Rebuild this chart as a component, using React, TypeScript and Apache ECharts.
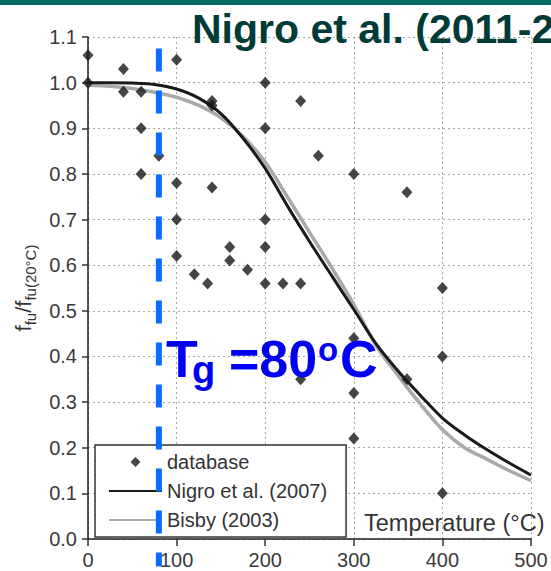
import React, { useEffect, useRef } from "react";
import * as echarts from "echarts";

const FONT = "'Liberation Sans', Arial, Helvetica, sans-serif";

// Model curves: strength ratio vs temperature
const curveTemps = [0, 25, 50, 75, 100, 125, 150, 175, 200, 225, 250, 275, 300, 325, 350, 375, 400, 425, 450, 475, 500];
const nigro2007 = [1.0, 1.0, 0.999, 0.996, 0.986, 0.966, 0.932, 0.878, 0.812, 0.73, 0.652, 0.577, 0.503, 0.428, 0.368, 0.315, 0.265, 0.228, 0.196, 0.167, 0.14];
const bisby2003 = [0.994, 0.992, 0.987, 0.979, 0.968, 0.95, 0.923, 0.882, 0.826, 0.75, 0.672, 0.595, 0.514, 0.424, 0.358, 0.296, 0.24, 0.2, 0.175, 0.15, 0.128];

// Test database
const dbTemps = [0, 0, 40, 40, 60, 60, 60, 80, 100, 100, 100, 100, 120, 135, 140, 140, 140, 160, 160, 180, 200, 200, 200, 200, 200, 220, 240, 240, 240, 260, 300, 300, 300, 300, 360, 360, 400, 400, 400];
const dbRatios = [1.06, 1.0, 1.03, 0.98, 0.98, 0.9, 0.8, 0.84, 1.05, 0.78, 0.7, 0.62, 0.58, 0.56, 0.96, 0.95, 0.77, 0.64, 0.61, 0.59, 1.0, 0.9, 0.7, 0.64, 0.56, 0.56, 0.96, 0.56, 0.35, 0.84, 0.8, 0.44, 0.32, 0.22, 0.76, 0.35, 0.55, 0.4, 0.1];

const legendNames = ["database", "Nigro et al. (2007)", "Bisby (2003)"];
const glassTransition = 80;

export default function App() {
  const ref = useRef<HTMLDivElement>(null);

  useEffect(() => {
    const el = ref.current;
    if (!el) return;
    const chart = echarts.init(el, null, { renderer: "svg" });

    const axisLineStyle = { color: "#1e1e1e", width: 1.5 };
    const gridLineStyle = { color: "#a8a8a8", type: [2, 3], width: 1 };
    const labelStyle = { color: "#3a3a3a", fontSize: 20, fontFamily: FONT };

    chart.setOption({
      animation: false,
      backgroundColor: "#ffffff",
      grid: { left: 88, right: 20, top: 37, bottom: 32 },
      xAxis: {
        type: "value",
        min: 0,
        max: 500,
        interval: 100,
        axisLine: { show: true, onZero: false, lineStyle: axisLineStyle },
        axisTick: { show: true, length: 7, lineStyle: { color: "#333", width: 1.5 } },
        axisLabel: { ...labelStyle, margin: 11 },
        splitLine: { show: true, lineStyle: gridLineStyle },
      },
      yAxis: {
        type: "value",
        min: 0,
        max: 1.1,
        interval: 0.1,
        axisLine: { show: true, onZero: false, lineStyle: axisLineStyle },
        axisTick: { show: true, length: 6, lineStyle: { color: "#333", width: 1.5 } },
        axisLabel: { ...labelStyle, margin: 11, formatter: (v: number) => v.toFixed(1) },
        splitLine: { show: true, lineStyle: gridLineStyle },
        name: "{m|f}{s|fu}{m|/f}{s|fu(20°C)}",
        nameLocation: "middle",
        nameRotate: 90,
        nameGap: 54,
        nameTextStyle: {
          color: "#333",
          fontFamily: FONT,
          rich: {
            m: { fontSize: 22, fontFamily: FONT, color: "#333", lineHeight: 22, verticalAlign: "top" },
            s: { fontSize: 15, fontFamily: FONT, color: "#333", lineHeight: 15, verticalAlign: "top", padding: [11, 0, 0, 0] },
          },
        },
      },
      legend: {
        data: [
          { name: legendNames[0], icon: "path://M5,0L10,5L5,10L0,5Z" },
          { name: legendNames[1], itemStyle: { opacity: 0 } },
          { name: legendNames[2], itemStyle: { opacity: 0 } },
        ],
        orient: "vertical",
        left: 95,
        top: 445,
        itemWidth: 53,
        itemHeight: 10,
        itemGap: 9,
        symbolKeepAspect: true,
        padding: [7, 19, 7, 13],
        backgroundColor: "#ffffff",
        borderColor: "#333",
        borderWidth: 1.5,
        borderRadius: 0,
        selectedMode: false,
        textStyle: { fontSize: 20, lineHeight: 20, color: "#333", fontFamily: FONT },
      },
      series: [
        {
          name: "Bisby (2003)",
          type: "line",
          data: curveTemps.map((t, i) => [t, bisby2003[i]]),
          smooth: 0.3,
          symbol: "none",
          lineStyle: { color: "#a9a9a9", width: 3.5 },
          itemStyle: { color: "#a9a9a9" },
          z: 2,
        },
        {
          name: "Nigro et al. (2007)",
          type: "line",
          data: curveTemps.map((t, i) => [t, nigro2007[i]]),
          smooth: 0.3,
          symbol: "none",
          lineStyle: { color: "#1a1a1a", width: 3 },
          itemStyle: { color: "#1a1a1a" },
          z: 3,
        },
        {
          name: "database",
          type: "scatter",
          symbol: "diamond",
          symbolSize: [11, 12],
          data: dbTemps.map((t, i) => [t, dbRatios[i]]),
          itemStyle: { color: "#161616" },
          z: 4,
        },
      ],
    });

    // Glass-transition marker and annotations
    const tgX = chart.convertToPixel({ xAxisIndex: 0 }, glassTransition) as number;
    const tgTop = chart.convertToPixel({ yAxisIndex: 0 }, 1.075) as number;
    const tgBottom = chart.convertToPixel({ yAxisIndex: 0 }, -0.06) as number;
    const blue = "#0000f2";

    chart.setOption({
      graphic: [
        { type: "rect", x: 0, y: 0, shape: { width: 551, height: 5 }, style: { fill: "#036b64" }, z: 20 },
        {
          type: "text",
          x: 192,
          y: 28.6,
          style: { text: "Nigro et al. (2011-2012)", fill: "#013b36", font: `bold 41px ${FONT}`, verticalAlign: "middle" },
          z: 20,
        },
        {
          type: "text",
          x: 364,
          y: 523,
          style: { text: "Temperature (°C)", fill: "#333", font: `23.5px ${FONT}`, verticalAlign: "middle" },
          z: 20,
        },
        {
          type: "line",
          shape: { x1: tgX, y1: tgTop, x2: tgX, y2: tgBottom },
          style: { stroke: "#0a6cff", lineWidth: 6, lineDash: [23, 19] },
          z: 30,
        },
        { type: "text", x: 166, y: 358.5, style: { text: "T", fill: blue, font: `bold 52px ${FONT}`, verticalAlign: "middle" }, z: 30 },
        { type: "text", x: 192, y: 370, style: { text: "g", fill: blue, font: `bold 38px ${FONT}`, verticalAlign: "middle" }, z: 30 },
        { type: "text", x: 229, y: 358.5, style: { text: "=80", fill: blue, font: `bold 52px ${FONT}`, verticalAlign: "middle" }, z: 30 },
        { type: "text", x: 318, y: 349, style: { text: "o", fill: blue, font: `bold 33px ${FONT}`, verticalAlign: "middle" }, z: 30 },
        { type: "text", x: 340, y: 358.5, style: { text: "C", fill: blue, font: `bold 52px ${FONT}`, verticalAlign: "middle" }, z: 30 },
      ],
    });

    return () => chart.dispose();
  }, []);

  return <div ref={ref} style={{ position: "fixed", left: 0, top: 0, width: 551, height: 571 }} />;
}
